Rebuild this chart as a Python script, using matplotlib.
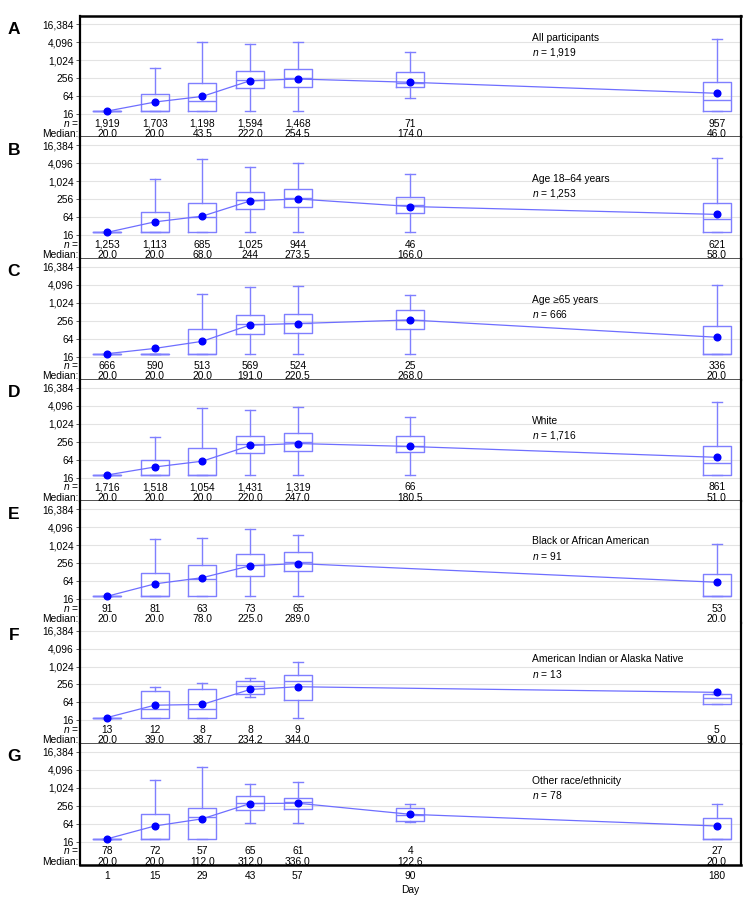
import numpy as np
import matplotlib
matplotlib.use('Agg')
import matplotlib.pyplot as plt
from matplotlib.ticker import NullLocator
from matplotlib.transforms import blended_transform_factory

plt.rcParams['font.family'] = ['Liberation Sans', 'DejaVu Sans']
plt.rcParams['mathtext.fontset'] = 'custom'
plt.rcParams['mathtext.it'] = 'Liberation Sans:italic'
plt.rcParams['mathtext.rm'] = 'Liberation Sans'

# ---------------- data ----------------
days = [1, 15, 29, 43, 57, 90, 180]
panel_letters = ['A', 'B', 'C', 'D', 'E', 'F', 'G']
group_labels = ['All participants', 'Age 18\u201364 years', 'Age \u226565 years', 'White',
                'Black or African American', 'American Indian or Alaska Native',
                'Other race/ethnicity']
group_n = ['1,919', '1,253', '666', '1,716', '91', '13', '78']
ytick_values = [16, 64, 256, 1024, 4096, 16384]
ytick_labels = ['16', '64', '256', '1,024', '4,096', '16,384']
nan = np.nan

n_counts = [
    [1919, 1703, 1198, 1594, 1468, 71, 957],
    [1253, 1113, 685, 1025, 944, 46, 621],
    [666, 590, 513, 569, 524, 25, 336],
    [1716, 1518, 1054, 1431, 1319, 66, 861],
    [91, 81, 63, 73, 65, nan, 53],
    [13, 12, 8, 8, 9, nan, 5],
    [78, 72, 57, 65, 61, 4, 27],
]
medians = [
    ['20.0', '20.0', '43.5', '222.0', '254.5', '174.0', '46.0'],
    ['20.0', '20.0', '68.0', '244', '273.5', '166.0', '58.0'],
    ['20.0', '20.0', '20.0', '191.0', '220.5', '268.0', '20.0'],
    ['20.0', '20.0', '20.0', '220.0', '247.0', '180.5', '51.0'],
    ['20.0', '20.0', '78.0', '225.0', '289.0', '', '20.0'],
    ['20.0', '39.0', '38.7', '234.2', '344.0', '', '90.0'],
    ['20.0', '20.0', '112.0', '312.0', '336.0', '122.6', '20.0'],
]
q1 = [
    [20, 20, 20, 115, 131, 124, 20],
    [20, 20, 20, 124, 140, 87, 20],
    [20, 20, 20, 91, 98, 133, 20],
    [20, 20, 20, 106, 126, 117, 20],
    [20, 20, 20, 94, 136, nan, 20],
    [20, 20, 20, 124, 76, nan, 59],
    [20, 20, 20, 185, 199, 80, 20],
]
q3 = [
    [20, 73, 170, 449, 498, 407, 184],
    [20, 98, 194, 458, 545, 305, 194],
    [20, 20, 133, 383, 424, 588, 167],
    [20, 64, 159, 413, 495, 413, 189],
    [20, 120, 215, 530, 617, nan, 108],
    [20, 155, 185, 338, 520, nan, 124],
    [20, 133, 215, 560, 481, 215, 98],
]
whisker_low = [
    [20, 20, 20, 20, 20, 55, 20],
    [20, 20, 20, 20, 20, 20, 20],
    [20, 20, 20, 20, 20, 20, 20],
    [20, 20, 20, 20, 20, 20, 20],
    [20, 20, 20, 20, 20, nan, 20],
    [20, 20, 20, 98, 20, nan, 59],
    [20, 20, 20, 67, 67, 73, 20],
]
whisker_high = [
    [20, 553, 4096, 3420, 4096, 1900, 5300],
    [20, 1190, 5800, 3190, 4096, 1790, 6000],
    [20, 20, 2020, 3350, 3700, 1870, 3900],
    [20, 362, 3500, 3100, 3800, 1790, 5560],
    [20, 1610, 1790, 3500, 2240, nan, 1140],
    [20, 210, 290, 413, 1420, nan, 124],
    [20, 1830, 5000, 1420, 1610, 305, 284],
]
means = [
    [20, 40, 62, 208, 237, 184, 79],
    [20, 45, 70, 225, 263, 147, 80],
    [20, 30, 52, 185, 204, 269, 71],
    [20, 37, 58, 194, 226, 180, 78],
    [20, 52, 84, 210, 249, nan, 59],
    [20, 52, 55, 175, 215, nan, 140],
    [20, 54, 94, 305, 312, 133, 54],
]

# ---------------- layout ----------------
W, H = 756, 906
fig = plt.figure(figsize=(W / 100, H / 100), dpi=100)
left_px, right_px, top_px0 = 80, 741, 16
panel_h = 121.3
label_off = [22, 42, 41, 41, 40, 37, 37]

box_color = '#7f7fff'
line_color = '#6e6eff'
dot_color = '#0000ff'
fs = 7.4
n_row_y = 2 ** 2.94
med_row_y = 2 ** 1.79

for i in range(7):
    top = top_px0 + i * panel_h
    ax = fig.add_axes([left_px / W, 1 - (top + panel_h) / H,
                       (right_px - left_px) / W, panel_h / H])
    ax.set_yscale('log', base=2)
    ax.set_ylim(2 ** 1.41, 2 ** 14.89)
    ax.set_xlim(-6.93, 187.1)

    stats = []
    pos = []
    for j, d in enumerate(days):
        if np.isnan(q1[i][j]):
            continue
        stats.append(dict(med=float(medians[i][j]), q1=q1[i][j], q3=q3[i][j],
                          whislo=whisker_low[i][j], whishi=whisker_high[i][j],
                          fliers=[]))
        pos.append(d)
    lp = dict(color=box_color, lw=1.0)
    ax.bxp(stats, positions=pos, widths=8.2, capwidths=[2.9] * len(pos),
           showfliers=False, boxprops=lp, whiskerprops=lp, capprops=lp,
           medianprops=dict(color=box_color, lw=1.0), manage_ticks=False)

    md = [d for j, d in enumerate(days) if not np.isnan(means[i][j])]
    mv = [m for m in means[i] if not np.isnan(m)]
    ax.plot(md, mv, color=line_color, lw=0.9, zorder=4)
    ax.plot(md, mv, 'o', color=dot_color, ms=4.8, zorder=5)

    # n and median rows
    for j, d in enumerate(days):
        if np.isnan(n_counts[i][j]):
            continue
        ax.text(d, n_row_y, f"{int(n_counts[i][j]):,}", ha='center', va='center', fontsize=fs)
        ax.text(d, med_row_y, medians[i][j], ha='center', va='center', fontsize=fs)
    tr = blended_transform_factory(ax.transAxes, ax.transData)
    ax.text(-0.002, n_row_y, '$n$ =', transform=tr, ha='right', va='center', fontsize=fs)
    ax.text(-0.002, med_row_y, 'Median:', transform=tr, ha='right', va='center', fontsize=fs)

    # group label
    gx = (532 - left_px) / (right_px - left_px)
    ax.text(gx, 1 - label_off[i] / panel_h, group_labels[i], transform=ax.transAxes,
            ha='left', va='center', fontsize=fs)
    ax.text(gx, 1 - (label_off[i] + 14.5) / panel_h, '$n$ = ' + group_n[i],
            transform=ax.transAxes, ha='left', va='center', fontsize=fs)

    # y axis
    ax.set_yticks(ytick_values)
    ax.set_yticklabels(ytick_labels)
    ax.yaxis.set_minor_locator(NullLocator())
    ax.tick_params(axis='y', labelsize=fs, length=3, width=0.6, pad=1.5, color='#444444')
    ax.yaxis.grid(True, color='#e3e3e3', lw=0.8)
    ax.set_axisbelow(True)

    # x axis
    if i < 6:
        ax.tick_params(axis='x', bottom=False, labelbottom=False)
    else:
        ax.set_xticks(days)
        ax.set_xticklabels([str(d) for d in days])
        ax.tick_params(axis='x', labelsize=fs, length=0, pad=4)
        ax.set_xlabel('Day', fontsize=fs, labelpad=3)

    for s in ['left', 'right']:
        ax.spines[s].set_linewidth(1.6)
        ax.spines[s].set_color('black')
    ax.spines['top'].set_visible(i == 0)
    ax.spines['top'].set_linewidth(1.8)
    ax.spines['bottom'].set_linewidth(1.8 if i == 6 else 1.3)
    ax.spines['bottom'].set_color('black' if i == 6 else '#444444')

    fig.text(14 / W, 1 - (top + 13) / H, panel_letters[i], fontsize=12.5,
             fontweight='bold', ha='center', va='center')

fig.savefig('out.png', dpi=100)
